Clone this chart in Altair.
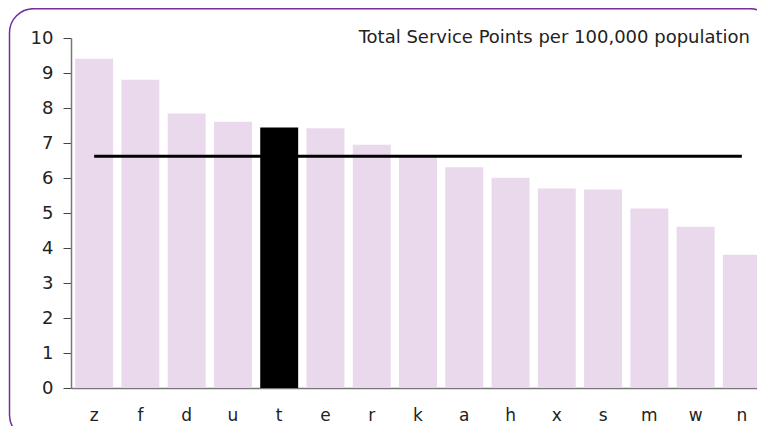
import altair as alt
import pandas as pd

categories = ["z", "f", "d", "u", "t", "e", "r", "k", "a", "h", "x", "s", "m", "w", "n"]
values = [9.41, 8.81, 7.84, 7.61, 7.44, 7.42, 6.95, 6.60, 6.31, 6.01, 5.70, 5.67, 5.13, 4.61, 3.81]
highlight = "t"
title_text = "Total Service Points per 100,000 population"
y_ticks = [0, 1, 2, 3, 4, 5, 6, 7, 8, 9, 10]

df = pd.DataFrame({"cat": categories, "value": values})

W, H = 694, 350
FONT = "DejaVu Sans"

xaxis = alt.Axis(labelAngle=0, ticks=False, labelPadding=19, labelFontSize=17,
                 labelFont=FONT, labelColor="#222", domainColor="#777", domainWidth=1.5)
yaxis = alt.Axis(values=y_ticks, tickCount=12, tickSize=8, tickColor="#444", tickWidth=1,
                 labelPadding=10, labelFontSize=18, labelFont=FONT, labelColor="#222",
                 labelOverlap=False, labelFlush=False, domainColor="#777", domainWidth=1.5, grid=False)
xscale = alt.Scale(paddingInner=0.18, paddingOuter=0.09)
yscale = alt.Scale(domain=[0, 10], nice=False)

bars = alt.Chart(df).mark_bar().encode(
    x=alt.X("cat:N", sort=categories, title=None, scale=xscale, axis=xaxis),
    y=alt.Y("value:Q", title=None, scale=yscale, axis=yaxis),
    color=alt.condition(alt.datum.cat == highlight, alt.value("#000000"), alt.value("#EAD8EC")),
)

mean_line = alt.Chart(df).transform_joinaggregate(avg="mean(value)").mark_line(
    color="#000000", strokeWidth=3
).encode(
    x=alt.X("cat:N", sort=categories),
    y=alt.Y("avg:Q"),
)

title = alt.Chart(pd.DataFrame({"t": [title_text]})).mark_text(
    align="right", baseline="alphabetic", fontSize=18, font=FONT, color="#222"
).encode(text="t:N", x=alt.value(679), y=alt.value(5))

border = alt.Chart(pd.DataFrame({"a": [0]})).mark_rect(
    fill="transparent", stroke="#7030A0", strokeWidth=1.5, cornerRadius=24
).encode(x=alt.value(-61.5), x2=alt.value(703), y=alt.value(-29.3), y2=alt.value(401))

chart = alt.layer(bars, mean_line, title, border).properties(
    width=W, height=H,
    autosize=alt.AutoSizeParams(type="none"),
    padding={"left": 63, "top": 30, "right": -8, "bottom": 38},
).configure_view(stroke=None)

chart.save("out.html", embed_options={"renderer": "svg", "actions": False})
